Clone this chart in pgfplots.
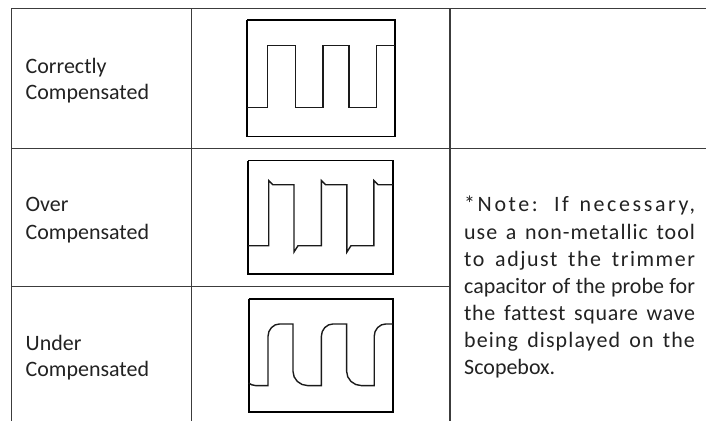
\documentclass[border=0pt]{standalone}
\usepackage{pgfplots}
\pgfplotsset{compat=1.18}
\usepackage{fontspec}
\setmainfont{Carlito}[Ligatures=CommonOff]
\definecolor{tbl}{HTML}{3C3C3C}
\definecolor{txt}{HTML}{222222}
\definecolor{wav}{HTML}{1A1A1A}
\begin{document}
\begin{tikzpicture}[
  tl/.style={draw=tbl, line width=1.2pt},
  frm/.style={draw=black, line width=1.7pt},
  wv/.style={draw=wav, line width=1.4pt, line join=miter},
  lab/.style={anchor=base west, inner sep=0pt, text=txt, font=\fontsize{22}{27}\selectfont},
]
\begin{axis}[
  scale only axis, width=707pt, height=421pt,
  xmin=0, xmax=707, ymin=0, ymax=421, y dir=reverse,
  hide axis, clip=false,
  every axis plot/.append style={forget plot},
]
\addplot[draw=none] coordinates {(0,0) (707,421)};
% ---- table rules
\addplot[tl, line width=1.5pt] coordinates {(11.5,8.5) (707,8.5)};
\addplot[tl, line width=1.5pt] coordinates {(11.5,148.5) (707,148.5)};
\addplot[tl, line width=1.5pt] coordinates {(11.5,287) (450.5,287)};
\addplot[tl] coordinates {(11.5,8.5) (11.5,421)};
\addplot[tl] coordinates {(192,8.5) (192,421)};
\addplot[tl] coordinates {(450.5,8.5) (450.5,421)};
% ---- scope frames
\addplot[frm] coordinates {(247.3,20) (395.3,20) (395.3,136.7) (247.3,136.7) (247.3,20)};
\addplot[frm] coordinates {(248.3,160.7) (393.3,160.7) (393.3,274) (248.3,274) (248.3,160.7)};
\addplot[frm] coordinates {(249,299) (393.3,299) (393.3,412.7) (249,412.7) (249,299)};
% ---- correctly compensated
\addplot[wv] coordinates {(247.3,107.7) (267.7,107.7) (267.7,45.7) (295.7,45.7) (295.7,107.7)
  (323.3,107.7) (323.3,45.7) (349.3,45.7) (349.3,107.7) (376.7,107.7) (376.7,45.7) (395.3,45.7)};
% ---- over compensated
\addplot[wv] coordinates {(248.3,246) (269,246) (269,180.7) (273.3,185) (294.3,185) (294.3,252.3) (298.3,246)
  (321.7,246) (321.7,180.7) (326,185) (347.3,185) (347.3,252.3) (351.3,246)
  (374.3,246) (374.3,180.7) (378.6,185) (393.3,185)};
% ---- under compensated
\addplot[wv] coordinates {(249,383.5) (252,385.2) (256,386) (268.3,386) (268.3,336.7) (269.19,331.95) (271.73,327.93) (275.52,325.24) (280,324.3)
  (293.3,324.3) (293.3,371.7) (294.42,377.2) (297.6,381.8) (302.34,384.9) (308,386)
  (321.7,386) (321.7,336.7) (322.59,331.95) (325.13,327.93) (328.92,325.24) (333.4,324.3)
  (347,324.3) (347,371.7) (348.12,377.2) (351.3,381.8) (356.04,384.9) (361.7,386)
  (374.6,386) (374.6,336.7) (375.49,331.95) (378.03,327.93) (381.82,325.24) (386.3,324.3) (393.3,324.3)};
% ---- labels
\node[lab] at (axis cs:25.5,73.3) {Correctly};
\node[lab] at (axis cs:25.5,100) {Compensated};
\node[lab] at (axis cs:25.5,211.7) {Over};
\node[lab] at (axis cs:25.5,239.3) {Compensated};
\node[lab] at (axis cs:25.5,350.5) {Under};
\node[lab] at (axis cs:25.5,377) {Compensated};
% ---- note
\node[lab] at (axis cs:464.5,212) {\makebox[231pt][s]{\addfontfeature{LetterSpace=11.8}*Note: If necessary,}};
\node[lab] at (axis cs:464.5,239.3) {\makebox[231pt][s]{\addfontfeature{LetterSpace=4.5}use a non-metallic tool}};
\node[lab] at (axis cs:464.5,266.6) {\makebox[231pt][s]{\addfontfeature{LetterSpace=7}to adjust the trimmer}};
\node[lab] at (axis cs:464.5,294) {\makebox[231pt][s]{capacitor of the probe for}};
\node[lab] at (axis cs:464.5,321) {\makebox[231pt][s]{\addfontfeature{LetterSpace=3}the fattest square wave}};
\node[lab] at (axis cs:464.5,348) {\makebox[231pt][s]{\addfontfeature{LetterSpace=5}being displayed on the}};
\node[lab] at (axis cs:464.5,375.3) {Scopebox.};
\end{axis}
\end{tikzpicture}
\end{document}
